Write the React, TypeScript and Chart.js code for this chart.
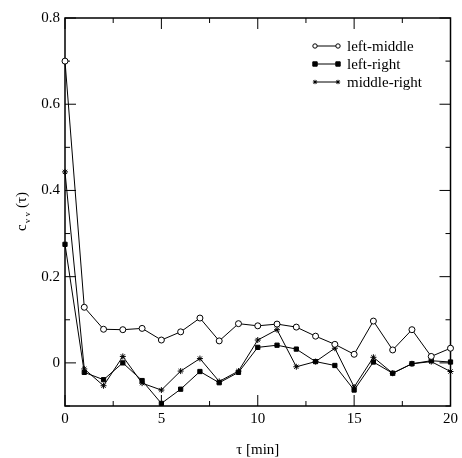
import React, { useEffect, useRef } from "react";
import { Chart, registerables } from "chart.js";

Chart.register(...registerables);

const tau = [0, 1, 2, 3, 4, 5, 6, 7, 8, 9, 10, 11, 12, 13, 14, 15, 16, 17, 18, 19, 20];
const leftMiddle = [0.70, 0.129, 0.078, 0.077, 0.080, 0.053, 0.072, 0.104, 0.051, 0.091, 0.086, 0.090, 0.083, 0.062, 0.043, 0.020, 0.097, 0.030, 0.077, 0.015, 0.034];
const leftRight = [0.275, -0.022, -0.039, 0.0, -0.041, -0.094, -0.061, -0.020, -0.046, -0.022, 0.036, 0.041, 0.032, 0.003, -0.006, -0.063, 0.002, -0.024, -0.002, 0.005, 0.002];
const middleRight = [0.443, -0.014, -0.053, 0.015, -0.047, -0.063, -0.019, 0.010, -0.043, -0.019, 0.053, 0.077, -0.009, 0.003, 0.034, -0.056, 0.013, -0.024, -0.002, 0.003, -0.020];
const seriesNames = ["left-middle", "left-right", "middle-right"];
const xMajorTicks = [0, 5, 10, 15, 20];
const xMinorTicks = [2.5, 7.5, 12.5, 17.5];
const yMajorTicks = [0, 0.2, 0.4, 0.6, 0.8];
const yMinorTicks = [-0.1, 0.1, 0.3, 0.5, 0.7];

const FONT = '"Liberation Serif", "Times New Roman", serif';
const FS = 15;

function drawMarker(ctx: CanvasRenderingContext2D, style: string, x: number, y: number, r: number) {
  ctx.save();
  ctx.strokeStyle = "#000";
  ctx.lineWidth = 1;
  ctx.beginPath();
  if (style === "circle") {
    ctx.fillStyle = "#fff";
    ctx.arc(x, y, r, 0, Math.PI * 2);
    ctx.fill();
    ctx.stroke();
  } else if (style === "rect") {
    ctx.fillStyle = "#000";
    ctx.rect(x - r, y - r, 2 * r, 2 * r);
    ctx.fill();
    ctx.stroke();
  } else {
    for (let k = 0; k < 4; k++) {
      const ang = (k * Math.PI) / 4;
      ctx.moveTo(x - Math.cos(ang) * r, y - Math.sin(ang) * r);
      ctx.lineTo(x + Math.cos(ang) * r, y + Math.sin(ang) * r);
    }
    ctx.stroke();
  }
  ctx.restore();
}

export default function App() {
  const ref = useRef<HTMLCanvasElement>(null);
  useEffect(() => {
    if (!ref.current) return;
    const toPts = (ys: number[]) => tau.map((x, i) => ({ x, y: ys[i] }));
    const styles = [
      { pointStyle: "circle", bg: "#ffffff", radius: 3, legendR: 2.2 },
      { pointStyle: "rect", bg: "#000000", radius: 3, legendR: 2.2 },
      { pointStyle: "star", bg: "#000000", radius: 3, legendR: 2.2 },
    ];
    const data = [leftMiddle, leftRight, middleRight];

    const framePlugin = {
      id: "frame",
      beforeDatasetsDraw(chart: any) {
        const { ctx, chartArea: a, scales } = chart;
        const xs = scales.x, ys = scales.y;
        ctx.save();
        ctx.strokeStyle = "#000";
        ctx.lineWidth = 1.5;
        ctx.strokeRect(a.left, a.top, a.right - a.left, a.bottom - a.top);
        ctx.lineWidth = 1;
        ctx.beginPath();
        const tk = (v: number, len: number) => {
          const px = xs.getPixelForValue(v);
          ctx.moveTo(px, a.bottom); ctx.lineTo(px, a.bottom - len);
          ctx.moveTo(px, a.top); ctx.lineTo(px, a.top + len);
        };
        xMajorTicks.forEach((v) => tk(v, 11));
        xMinorTicks.forEach((v) => tk(v, 5));
        const tky = (v: number, len: number) => {
          const py = ys.getPixelForValue(v);
          ctx.moveTo(a.left, py); ctx.lineTo(a.left + len, py);
          ctx.moveTo(a.right, py); ctx.lineTo(a.right - len, py);
        };
        yMajorTicks.forEach((v) => tky(v, 11));
        yMinorTicks.forEach((v) => tky(v, 5));
        ctx.stroke();
        ctx.restore();
      },
      afterDatasetsDraw(chart: any) {
        const { ctx, chartArea: a } = chart;
        ctx.save();
        // axis titles
        ctx.fillStyle = "#000";
        ctx.font = `${FS}px ${FONT}`;
        ctx.textAlign = "center";
        ctx.textBaseline = "middle";
        ctx.fillText("\u03c4 [min]", (a.left + a.right) / 2, 450);

        ctx.save();
        ctx.translate(26, 207);
        ctx.rotate(-Math.PI / 2);
        ctx.textAlign = "left";
        ctx.textBaseline = "alphabetic";
        ctx.font = `${FS}px ${FONT}`;
        const total = 48;
        let x0 = -total / 2;
        ctx.fillText("c", x0, 0);
        x0 += ctx.measureText("c").width;
        ctx.font = `9px ${FONT}`;
        ctx.fillText("v v", x0 + 1, 4);
        x0 += ctx.measureText("v v").width + 5;
        ctx.font = `${FS}px ${FONT}`;
        ctx.fillText("(\u03c4)", x0, 0);
        ctx.restore();

        // legend
        const rows = [46, 64, 82];
        rows.forEach((ry, i) => {
          ctx.beginPath();
          ctx.lineWidth = 1;
          ctx.strokeStyle = "#000";
          ctx.moveTo(315, ry); ctx.lineTo(338, ry);
          ctx.stroke();
          const st = styles[i];
          [315, 338].forEach((mx) => drawMarker(ctx, st.pointStyle, mx, ry, st.legendR));
          ctx.fillStyle = "#000";
          ctx.font = `${FS}px ${FONT}`;
          ctx.textAlign = "left";
          ctx.textBaseline = "middle";
          ctx.fillText(seriesNames[i], 347, ry + 1);
        });
        ctx.restore();
      },
    };

    const chart = new Chart(ref.current, {
      type: "line",
      data: {
        datasets: data.map((d, i) => ({
          label: seriesNames[i],
          data: toPts(d),
          borderColor: "#000",
          borderWidth: 1,
          backgroundColor: styles[i].bg,
          pointBackgroundColor: styles[i].bg,
          pointBorderColor: "#000",
          pointBorderWidth: 1,
          pointStyle: styles[i].pointStyle as any,
          pointRadius: styles[i].radius,
          tension: 0,
          fill: false,
          clip: false,
        })),
      },
      options: {
        animation: false,
        responsive: false,
        maintainAspectRatio: false,
        layout: { padding: { top: 18, right: 8, left: 0, bottom: 0 } },
        plugins: { legend: { display: false }, tooltip: { enabled: false } },
        scales: {
          x: {
            type: "linear",
            min: 0,
            max: 20,
            afterBuildTicks: (s: any) => { s.ticks = xMajorTicks.map((v) => ({ value: v })); },
            afterFit: (s: any) => { s.height = 52; },
            grid: { display: false, drawTicks: false },
            border: { display: false },
            ticks: { padding: 4, color: "#000", font: { family: FONT, size: FS }, maxRotation: 0, callback: (v: any) => String(v) },
          },
          y: {
            type: "linear",
            min: -0.1,
            max: 0.8,
            afterBuildTicks: (s: any) => { s.ticks = yMajorTicks.map((v) => ({ value: v })); },
            afterFit: (s: any) => { s.width = 65; },
            grid: { display: false, drawTicks: false },
            border: { display: false },
            ticks: { padding: 5, color: "#000", font: { family: FONT, size: FS }, callback: (v: any) => String(Math.round(Number(v) * 10) / 10) },
          },
        },
      },
      plugins: [framePlugin],
    });
    return () => chart.destroy();
  }, []);

  return (
    <div style={{ position: "fixed", left: 0, top: 0, width: 462, height: 458, background: "#fff" }}>
      <canvas ref={ref} width={462} height={458} style={{ width: 462, height: 458 }} />
    </div>
  );
}
